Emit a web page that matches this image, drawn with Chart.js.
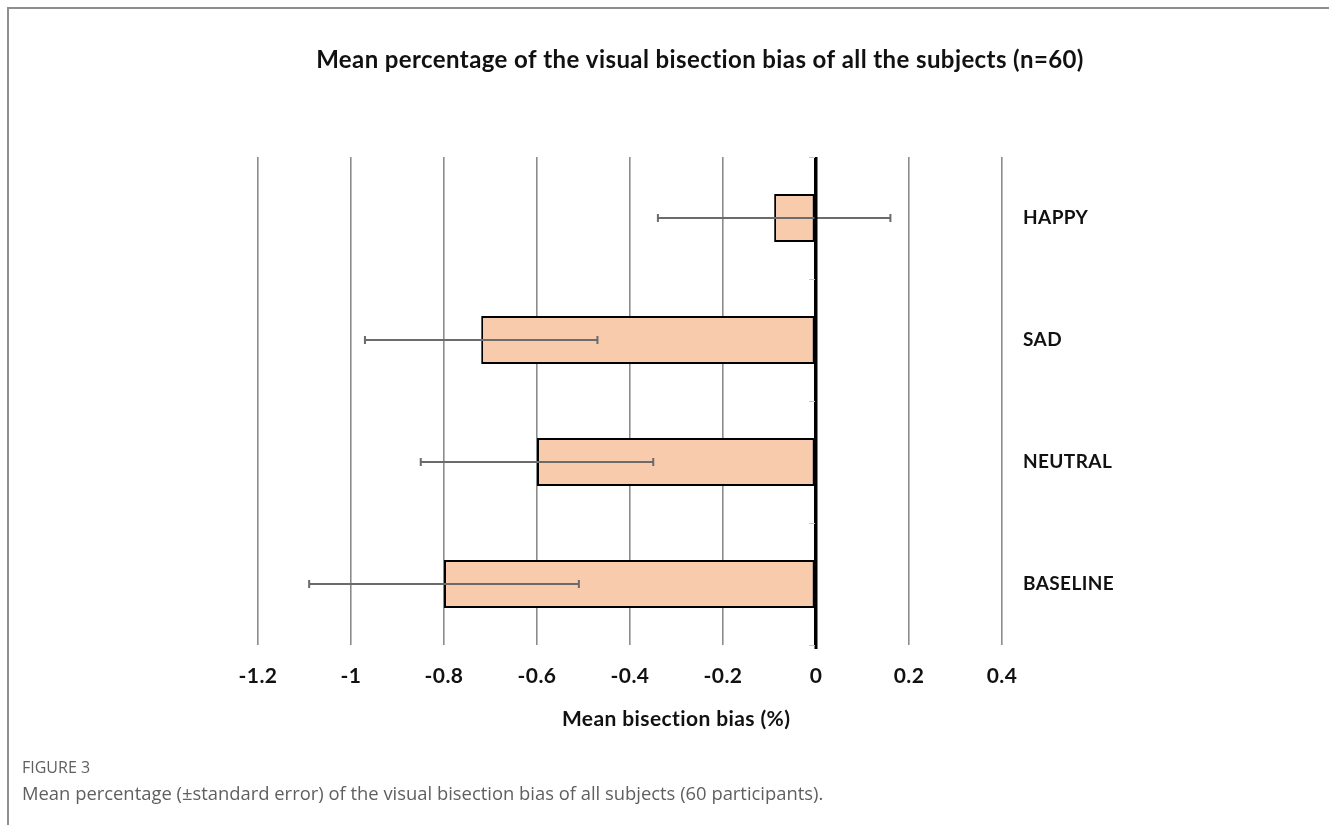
<!DOCTYPE html>
<html>
<head>
<meta charset="utf-8">
<title>Visual bisection bias</title>
<script src="https://cdn.jsdelivr.net/npm/chart.js@4.4.1/dist/chart.umd.min.js"></script>
<style>
  html, body { margin: 0; padding: 0; background: #ffffff; }
  #page { position: relative; width: 1329px; height: 825px; overflow: hidden; }
  #frame {
    position: absolute; left: 7px; top: 7px; right: -10px; bottom: -10px;
    border-top: 2px solid #8e8e8e; border-left: 2px solid #8e8e8e;
  }
  #chart { position: absolute; left: 0; top: 0; }
  .cap { position: absolute; left: 22px; font-family: "Open Sans", "Noto Sans", sans-serif; color: #5f5f5f; white-space: nowrap; }
  #figno { top: 756px; font-size: 16px; }
  #figtext { top: 780px; font-size: 18.4px; }
</style>
</head>
<body>
<div id="page">
  <div id="frame"></div>
  <canvas id="chart" width="1329" height="825"></canvas>
  <div class="cap" id="figno">FIGURE 3</div>
  <div class="cap" id="figtext">Mean percentage (±standard error) of the visual bisection bias of all subjects (60 participants).</div>
</div>
<script>
// Conditions, top to bottom
const conditions = ['HAPPY', 'SAD', 'NEUTRAL', 'BASELINE'];
// Mean bisection bias (%) per condition
const meanBias = [-0.09, -0.72, -0.60, -0.80];
// Standard error per condition
const stdError = [0.25, 0.25, 0.25, 0.29];
// Value-axis tick labels
const xTickLabels = ['-1.2', '-1', '-0.8', '-0.6', '-0.4', '-0.2', '0', '0.2', '0.4'];

const chartTitle = 'Mean percentage of the visual bisection bias of all the subjects (n=60)';
const xAxisTitle = 'Mean bisection bias (%)';

const FONT = 'Lato, "Open Sans", sans-serif';

// Whiskers for ±SE, plus the small marks on the zero axis between categories
const errorBarPlugin = {
  id: 'errorBars',
  beforeDraw(chart) {
    // a touch of tracking keeps "ti" from merging into a ligature
    chart.ctx.letterSpacing = '0.4px';
  },
  afterDatasetsDraw(chart) {
    const { ctx, scales: { x, y } } = chart;
    ctx.save();
    ctx.strokeStyle = '#6b6b6b';
    ctx.lineWidth = 2;
    meanBias.forEach((m, i) => {
      const py = y.getPixelForValue(i);
      const x1 = x.getPixelForValue(m - stdError[i]);
      const x2 = x.getPixelForValue(m + stdError[i]);
      ctx.beginPath();
      ctx.moveTo(x1, py); ctx.lineTo(x2, py);
      ctx.moveTo(x1, py - 4); ctx.lineTo(x1, py + 4);
      ctx.moveTo(x2, py - 4); ctx.lineTo(x2, py + 4);
      ctx.stroke();
    });
    // redraw the zero axis over the whiskers
    const x0 = x.getPixelForValue(0);
    ctx.strokeStyle = '#000000';
    ctx.lineWidth = 3;
    ctx.beginPath();
    ctx.moveTo(x0, chart.chartArea.top);
    ctx.lineTo(x0, chart.chartArea.bottom + 4);
    ctx.stroke();
    // category separators on the zero axis
    ctx.strokeStyle = '#c8c8c8';
    ctx.lineWidth = 1;
    const step = y.getPixelForValue(1) - y.getPixelForValue(0);
    for (let i = 0; i <= conditions.length; i++) {
      const py = Math.round(y.getPixelForValue(0) - step / 2 + i * step) + 0.5;
      ctx.beginPath();
      ctx.moveTo(x0 - 7, py); ctx.lineTo(x0 - 1, py);
      ctx.stroke();
    }
    ctx.restore();
  },
  afterDraw(chart) {
    const { ctx, chartArea } = chart;
    ctx.save();
    ctx.fillStyle = '#111111';
    ctx.font = 'bold 21px ' + FONT;
    ctx.textAlign = 'center';
    ctx.textBaseline = 'middle';
    ctx.fillText(xAxisTitle, chartArea.left + chartArea.width * 0.562, 719);
    ctx.restore();
  }
};

new Chart(document.getElementById('chart'), {
  type: 'bar',
  data: {
    labels: conditions,
    datasets: [{
      data: meanBias,
      backgroundColor: '#f8cbad',
      borderColor: '#000000',
      borderWidth: 2,
      borderSkipped: false,
      barPercentage: 0.395,
      categoryPercentage: 1.0
    }]
  },
  options: {
    indexAxis: 'y',
    responsive: false,
    animation: false,
    layout: { padding: { left: 258, right: 187, top: 0, bottom: 0 } },
    plugins: {
      legend: { display: false },
      tooltip: { enabled: false },
      title: {
        display: true,
        text: chartTitle,
        color: '#111111',
        font: { family: FONT, size: 24, weight: 'bold', lineHeight: 1.2 },
        padding: { top: 46, bottom: 82.2 }
      }
    },
    scales: {
      x: {
        type: 'linear',
        min: -1.2,
        max: 0.4,
        ticks: {
          stepSize: 0.2,
          color: '#111111',
          padding: 19,
          font: { family: FONT, size: 21, weight: 'bold' },
          callback: (v, i) => xTickLabels[i]
        },
        grid: {
          drawTicks: false,
          color: ctx => (ctx.tick && Math.abs(ctx.tick.value) < 1e-9) ? '#000000' : '#8c8c8c',
          lineWidth: ctx => (ctx.tick && Math.abs(ctx.tick.value) < 1e-9) ? 3 : 1.6
        },
        border: { display: false },
        afterFit: s => { s.height = 180; }
      },
      y: {
        position: 'right',
        ticks: {
          color: '#111111',
          padding: 21,
          crossAlign: 'near',
          font: { family: FONT, size: 19, weight: 'bold' }
        },
        grid: { display: false, drawTicks: false },
        border: { display: false },
        afterFit: s => { s.width = 140; }
      }
    }
  },
  plugins: [errorBarPlugin]
});
</script>
</body>
</html>
